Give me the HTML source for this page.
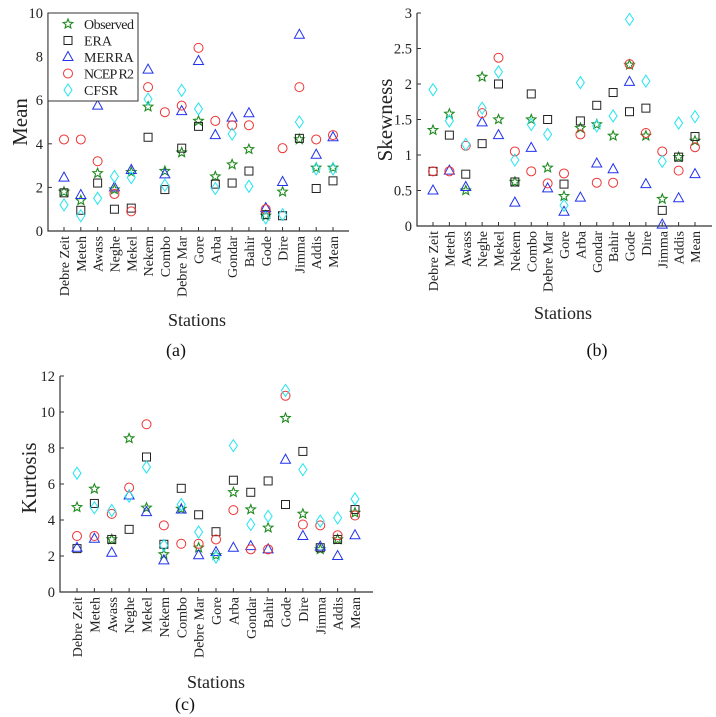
<!DOCTYPE html>
<html><head><meta charset="utf-8"><style>
body{margin:0;background:#fff}
svg{display:block}
</style></head><body>
<svg id="fig" width="716" height="717" viewBox="0 0 716 717"></svg>
<script>
const stations=["Debre Zeit","Meteh","Awass","Neghe","Mekel","Nekem","Combo","Debre Mar","Gore","Arba","Gondar","Bahir","Gode","Dire","Jimma","Addis","Mean"];
const seriesNames=["Observed","ERA","MERRA","NCEP R2","CFSR"];
const meanObs=[1.8,1.4,2.65,1.9,2.7,5.7,2.75,3.6,5.05,2.5,3.05,3.75,0.7,1.8,4.2,2.9,2.9];
const meanERA=[1.75,0.95,2.2,1.0,1.05,4.3,1.9,3.8,4.8,2.15,2.2,2.75,0.75,0.7,4.25,1.95,2.3];
const meanMERRA=[2.45,1.65,5.75,2.0,2.8,7.4,2.6,5.5,7.8,4.4,5.2,5.4,1.05,2.25,9.0,3.5,4.3];
const meanNCEP=[4.2,4.2,3.2,1.7,0.9,6.6,5.45,5.75,8.4,5.05,4.85,4.85,1.0,3.8,6.6,4.2,4.4];
const meanCFSR=[1.2,0.7,1.5,2.5,2.45,6.05,2.1,6.45,5.6,1.95,4.45,2.05,0.6,0.75,5.0,2.85,2.85];
const skewObs=[1.35,1.58,0.5,2.1,1.5,0.62,1.5,0.82,0.42,1.38,1.43,1.27,2.27,1.27,0.38,0.97,1.2];
const skewERA=[0.77,1.28,0.73,1.16,2.0,0.62,1.86,1.5,0.59,1.48,1.7,1.88,1.61,1.66,0.22,0.97,1.26];
const skewMERRA=[0.5,0.78,0.55,1.46,1.28,0.33,1.1,0.53,0.2,0.4,0.88,0.8,2.03,0.59,0.02,0.39,0.73];
const skewNCEP=[0.77,0.77,1.13,1.59,2.37,1.05,0.77,0.6,0.74,1.29,0.61,0.61,2.28,1.31,1.05,0.78,1.11];
const skewCFSR=[1.92,1.48,1.15,1.66,2.17,0.93,1.43,1.29,0.29,2.02,1.41,1.55,2.91,2.04,0.91,1.45,1.54];
const kurtObs=[4.71,5.73,2.92,8.53,4.68,2.09,4.62,2.46,2.04,5.54,4.58,3.57,9.66,4.34,2.37,2.92,4.4];
const kurtERA=[2.41,4.92,2.92,3.48,7.5,2.65,5.76,4.29,3.35,6.21,5.54,6.17,4.86,7.81,2.46,2.92,4.58];
const kurtMERRA=[2.46,2.96,2.18,5.36,4.44,1.76,4.58,2.04,2.22,2.46,2.55,2.37,7.35,3.11,2.52,2.0,3.15];
const kurtNCEP=[3.11,3.11,4.34,5.8,9.32,3.7,2.68,2.68,2.92,4.55,2.37,2.37,10.9,3.75,3.7,3.15,4.25];
const kurtCFSR=[6.6,4.68,4.53,5.32,6.94,2.59,4.86,3.33,1.94,8.13,3.75,4.21,11.2,6.8,3.94,4.12,5.17];
const meanTicks=["0","2","4","6","8","10"];
const skewTicks=["0","0.5","1","1.5","2","2.5","3"];
const kurtTicks=["0","2","4","6","8","10","12"];

const NS="http://www.w3.org/2000/svg";
const svg=document.getElementById('fig');
const FF='"Liberation Serif", "DejaVu Serif", serif';
function mk(tag,attrs,parent){const e=document.createElementNS(NS,tag);for(const k in attrs)e.setAttribute(k,attrs[k]);if(tag==='text')e.setAttribute('font-family',FF);(parent||svg).appendChild(e);return e;}
const colors=["#1f8a1f","#222","#2233ee","#ee3333","#22e5f0"];
function marker(g,type,x,y){
  let e;
  if(type===0){let p=[];for(let i=0;i<10;i++){const r=i%2?2.2:5;const a=-Math.PI/2+i*Math.PI/5;p.push((x+r*Math.cos(a)).toFixed(1)+","+(y+r*Math.sin(a)).toFixed(1));}
    e=mk('polygon',{points:p.join(' '),fill:'none',stroke:colors[0],'stroke-width':1.1},g);}
  else if(type===1){e=mk('rect',{x:x-4,y:y-4,width:8,height:8,fill:'none',stroke:colors[1],'stroke-width':1},g);}
  else if(type===2){e=mk('polygon',{points:`${x},${y-5.5} ${x-5},${y+3.5} ${x+5},${y+3.5}`,fill:'none',stroke:colors[2],'stroke-width':1},g);}
  else if(type===3){e=mk('circle',{cx:x,cy:y,r:4.5,fill:'none',stroke:colors[3],'stroke-width':1},g);}
  else {e=mk('polygon',{points:`${x},${y-6} ${x+4},${y} ${x},${y+6} ${x-4},${y}`,fill:'none',stroke:colors[4],'stroke-width':1},g);}
  return e;
}
function panel(o){
  const g=mk('g',{});
  
  
  const yS=v=>o.y0-(v-o.min)/(o.max-o.min)*(o.y0-o.y1);
  const xS=i=>o.xf+i*(o.xl-o.xf)/(stations.length-1);
  const ax=mk('path',{d:`M${o.ax},${o.y1}V${o.y0}H${o.right}`,fill:'none',stroke:'#333','stroke-width':1.2},g);
  
  
  o.ticks.forEach((t,i)=>{const v=o.min+i*(o.max-o.min)/(o.ticks.length-1);const y=yS(v);
    mk('line',{x1:o.ax,x2:o.ax+4,y1:y,y2:y,stroke:'#333'},g);
    const tx=mk('text',{x:o.ax-5,y:y+5,'text-anchor':'end','font-size':14.5,fill:'#222'},g);tx.textContent=t;
    
    });
  stations.forEach((s,i)=>{const x=xS(i);
    mk('line',{x1:x,x2:x,y1:o.y0,y2:o.y0-4,stroke:'#333'},g);
    const tx=mk('text',{x:0,y:0,'text-anchor':'end','font-size':14,fill:'#222',transform:`translate(${x+5},${o.y0+5}) rotate(-90)`},g);tx.textContent=s;
    
    });
  o.data.forEach((arr,k)=>{arr.forEach((v,i)=>{const m=marker(g,k,xS(i),yS(v));
    
    });});
  const yl=mk('text',{x:0,y:0,'text-anchor':'middle','font-size':21,fill:'#222',transform:`translate(${o.ylx},${o.yly}) rotate(-90)`},g);yl.textContent=o.ylabel;
  
  
  const xl=mk('text',{x:o.xlx,y:o.xly,'text-anchor':'middle','font-size':18,fill:'#222'},g);xl.textContent="Stations";
  
  
  const pl=mk('text',{x:o.plx,y:o.ply,'text-anchor':'middle','font-size':18,fill:'#111'},g);pl.textContent=o.plabel;
  
  
  return g;
}
panel({name:'mean-panel',ax:48,right:349,y0:231,y1:13,min:0,max:10,xf:64,xl:333,ticks:meanTicks,
  data:[meanObs,meanERA,meanMERRA,meanNCEP,meanCFSR],ylabel:"Mean",ylx:27,yly:122,xlx:197,xly:326,plabel:"(a)",plx:176,ply:356});
panel({name:'skewness-panel',ax:417,right:712,y0:226,y1:13,min:0,max:3,xf:433,xl:695,ticks:skewTicks,
  data:[skewObs,skewERA,skewMERRA,skewNCEP,skewCFSR],ylabel:"Skewness",ylx:392,yly:120,xlx:563,xly:319,plabel:"(b)",plx:597,ply:356});
panel({name:'kurtosis-panel',ax:60,right:373,y0:592,y1:376,min:0,max:12,xf:77,xl:355,ticks:kurtTicks,
  data:[kurtObs,kurtERA,kurtMERRA,kurtNCEP,kurtCFSR],ylabel:"Kurtosis",ylx:36,yly:478,xlx:216,xly:688,plabel:"(c)",plx:185,ply:710});
// legend
const lg=mk('g',{});


mk('rect',{x:48,y:13,width:90,height:88,fill:'#fff',stroke:'#333','stroke-width':1},lg);
seriesNames.forEach((n,k)=>{const y=24+k*16.5;
  const m=marker(lg,k,68,y);
  
  
  const t=mk('text',{x:84,y:y+5,'font-size':14,fill:'#222',textLength:(n.length>5?50:0)||null},lg);t.textContent=n;
  if(n.length<=5)t.removeAttribute('textLength');
  
  });
</script>
</body></html>
